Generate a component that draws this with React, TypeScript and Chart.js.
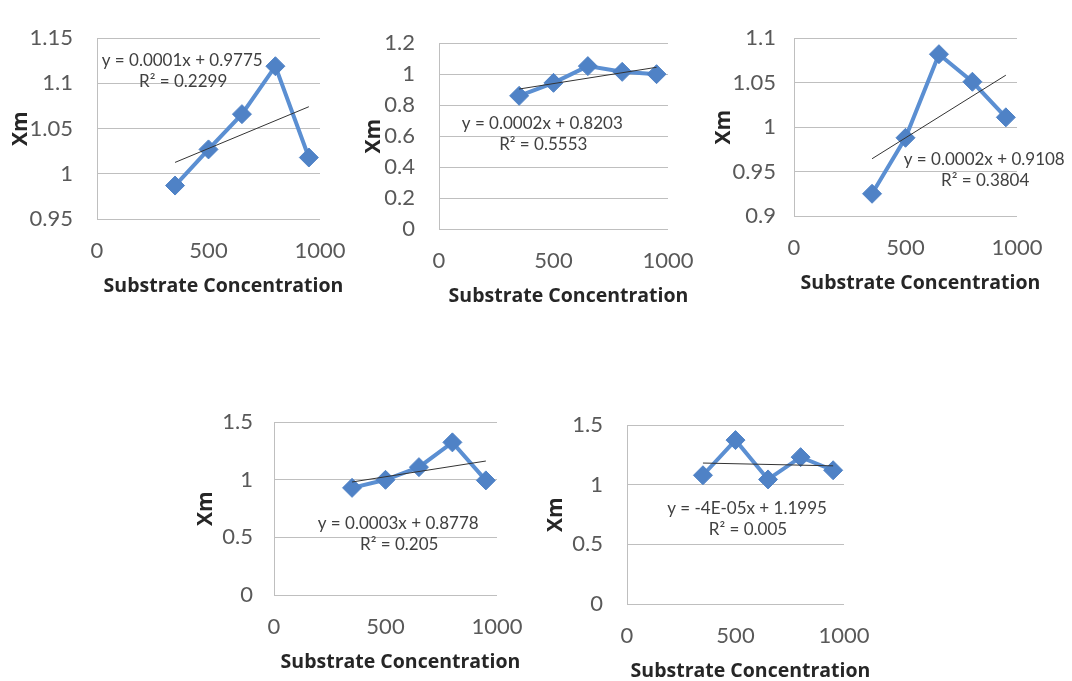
import React, { useEffect, useRef } from "react";
import { Chart, registerables } from "chart.js";

Chart.register(...registerables);

// ---- data ----
const substrate = [350, 500, 650, 800, 950];

const xm1 = [0.987, 1.027, 1.066, 1.119, 1.018];
const xm2 = [0.86, 0.944, 1.052, 1.015, 1.0];
const xm3 = [0.925, 0.988, 1.082, 1.051, 1.011];
const xm4 = [0.93, 1.0, 1.11, 1.325, 0.995];
const xm5 = [1.08, 1.375, 1.045, 1.232, 1.122];

const eq1 = ["y = 0.0001x + 0.9775", "R² = 0.2299"];
const eq2 = ["y = 0.0002x + 0.8203", "R² = 0.5553"];
const eq3 = ["y = 0.0002x + 0.9108", "R² = 0.3804"];
const eq4 = ["y = 0.0003x + 0.8778", "R² = 0.205"];
const eq5 = ["y = -4E-05x + 1.1995", "R² = 0.005"];

const xTicks = [0, 500, 1000];
const yTicks1 = [0.95, 1, 1.05, 1.1, 1.15];
const yTicks2 = [0, 0.2, 0.4, 0.6, 0.8, 1, 1.2];
const yTicks3 = [0.9, 0.95, 1, 1.05, 1.1];
const yTicks4 = [0, 0.5, 1, 1.5];
const yTicks5 = [0, 0.5, 1, 1.5];

const X_TITLE = "Substrate Concentration";
const Y_TITLE = "Xm";

// least squares trend through the series
function trend(xs: number[], ys: number[]) {
  const n = xs.length;
  const mx = xs.reduce((a, b) => a + b, 0) / n;
  const my = ys.reduce((a, b) => a + b, 0) / n;
  let sxy = 0, sxx = 0;
  for (let i = 0; i < n; i++) {
    sxy += (xs[i] - mx) * (ys[i] - my);
    sxx += (xs[i] - mx) * (xs[i] - mx);
  }
  const m = sxy / sxx;
  const b = my - m * mx;
  const x0 = xs[0], x1 = xs[n - 1];
  return [{ x: x0, y: m * x0 + b }, { x: x1, y: m * x1 + b }];
}

type Panel = {
  plot: { l: number; t: number; r: number; b: number };
  ys: number[];
  yTicks: number[];
  eq: string[];
  eqAt: { x: number; y: number };
  yTitleOff: number;
  tickPad: number;
};

const FONT = "Lato, 'Open Sans', sans-serif";
const TITLE_FONT = "'Open Sans', Lato, sans-serif";
const PAD_L = 100, PAD_T = 16, PAD_R = 62, PAD_B = 86;

const panels: Panel[] = [
  { plot: { l: 97, t: 17, r: 320, b: 219 }, ys: xm1, yTicks: yTicks1, eq: eq1, eqAt: { x: 382, y: 1.1257 }, yTitleOff: 77, tickPad: 24 },
  { plot: { l: 439, t: 22, r: 668, b: 229 }, ys: xm2, yTicks: yTicks2, eq: eq2, eqAt: { x: 451, y: 0.679 }, yTitleOff: 66, tickPad: 24 },
  { plot: { l: 794, t: 23, r: 1017, b: 216 }, ys: xm3, yTicks: yTicks3, eq: eq3, eqAt: { x: 853, y: 0.963 }, yTitleOff: 71, tickPad: 18 },
  { plot: { l: 274, t: 404, r: 497, b: 595 }, ys: xm4, yTicks: yTicks4, eq: eq4, eqAt: { x: 557, y: 0.621 }, yTitleOff: 69, tickPad: 21 },
  { plot: { l: 627, t: 404, r: 844, b: 604 }, ys: xm5, yTicks: yTicks5, eq: eq5, eqAt: { x: 553, y: 0.801 }, yTitleOff: 72, tickPad: 24 },
];

function PanelChart({ p }: { p: Panel }) {
  const ref = useRef<HTMLCanvasElement | null>(null);
  const w = p.plot.r - p.plot.l + PAD_L + PAD_R;
  const h = p.plot.b - p.plot.t + PAD_T + PAD_B;
  useEffect(() => {
    if (!ref.current) return;
    const yMin = p.yTicks[0];
    const yMax = p.yTicks[p.yTicks.length - 1];
    const overlay = {
      id: "overlay",
      afterDraw(chart: any) {
        const ctx = chart.ctx;
        const ca = chart.chartArea;
        ctx.save();
        // equation
        ctx.fillStyle = "#404040";
        ctx.font = `17px ${FONT}`;
        ctx.textAlign = "center";
        ctx.textBaseline = "middle";
        const ex = chart.scales.x.getPixelForValue(p.eqAt.x);
        const ey = chart.scales.y.getPixelForValue(p.eqAt.y);
        ctx.fillText(p.eq[0], ex, ey);
        ctx.fillText(p.eq[1], ex + 1, ey + 21);
        // x axis title
        ctx.fillStyle = "#262626";
        ctx.font = `bold 19.5px ${TITLE_FONT}`;
        ctx.fillText(X_TITLE, (ca.left + ca.right) / 2 + 15, ca.bottom + 67);
        ctx.restore();
      },
    };
    const chart = new Chart(ref.current, {
      type: "scatter",
      data: {
        datasets: [
          {
            data: trend(substrate, p.ys),
            showLine: true,
            borderColor: "#333333",
            borderWidth: 1,
            pointRadius: 0,
            order: 0,
          },
          {
            data: substrate.map((x, i) => ({ x, y: p.ys[i] })),
            showLine: true,
            borderColor: "#5b8fd2",
            borderWidth: 4,
            pointStyle: "rectRot",
            pointRadius: 9.5,
            pointBackgroundColor: "#4f82c6",
            pointBorderColor: "#4f82c6",
            pointBorderWidth: 1,
            order: 1,
          },
        ],
      },
      options: {
        animation: false,
        responsive: false,
        devicePixelRatio: 1,
        layout: { autoPadding: false, padding: { left: 0, top: PAD_T, right: PAD_R, bottom: 0 } },
        plugins: { legend: { display: false }, tooltip: { enabled: false } },
        scales: {
          x: {
            type: "linear",
            min: 0,
            max: 1000,
            afterFit: (s: any) => { s.height = PAD_B; },
            afterBuildTicks: (s: any) => { s.ticks = xTicks.map((v) => ({ value: v })); },
            grid: { display: false, drawTicks: false },
            border: { display: false },
            ticks: {
              color: "#595959",
              font: { family: FONT, size: 22 },
              padding: 19,
              maxRotation: 0,
              callback: (v: any) => String(v),
            },
          },
          y: {
            type: "linear",
            min: yMin,
            max: yMax,
            afterFit: (s: any) => { s.width = PAD_L; },
            afterBuildTicks: (s: any) => { s.ticks = p.yTicks.map((v) => ({ value: v })); },
            grid: { color: "#bfbfbf", lineWidth: 1, drawTicks: false },
            border: { display: true, color: "#bfbfbf", width: 1 },
            ticks: {
              color: "#595959",
              font: { family: FONT, size: 22 },
              padding: p.tickPad,
              callback: (v: any) => String(Math.round(Number(v) * 100) / 100),
            },
            title: {
              display: true,
              text: Y_TITLE,
              color: "#262626",
              font: { family: TITLE_FONT, size: 21, weight: "bold" },
              padding: { top: PAD_L - p.yTitleOff - 12, bottom: 0 },
            },
          },
        },
      },
      plugins: [overlay],
    } as any);
    return () => chart.destroy();
  }, [p]);
  return (
    <canvas
      ref={ref}
      width={w}
      height={h}
      style={{ position: "absolute", left: p.plot.l - PAD_L, top: p.plot.t - PAD_T, width: w, height: h }}
    />
  );
}

export default function App() {
  return (
    <div
      style={{
        position: "absolute",
        left: 0,
        top: 0,
        width: 1072,
        height: 681,
        overflow: "hidden",
        background: "#ffffff",
      }}
    >
      {panels.map((p, i) => (
        <PanelChart key={i} p={p} />
      ))}
    </div>
  );
}
